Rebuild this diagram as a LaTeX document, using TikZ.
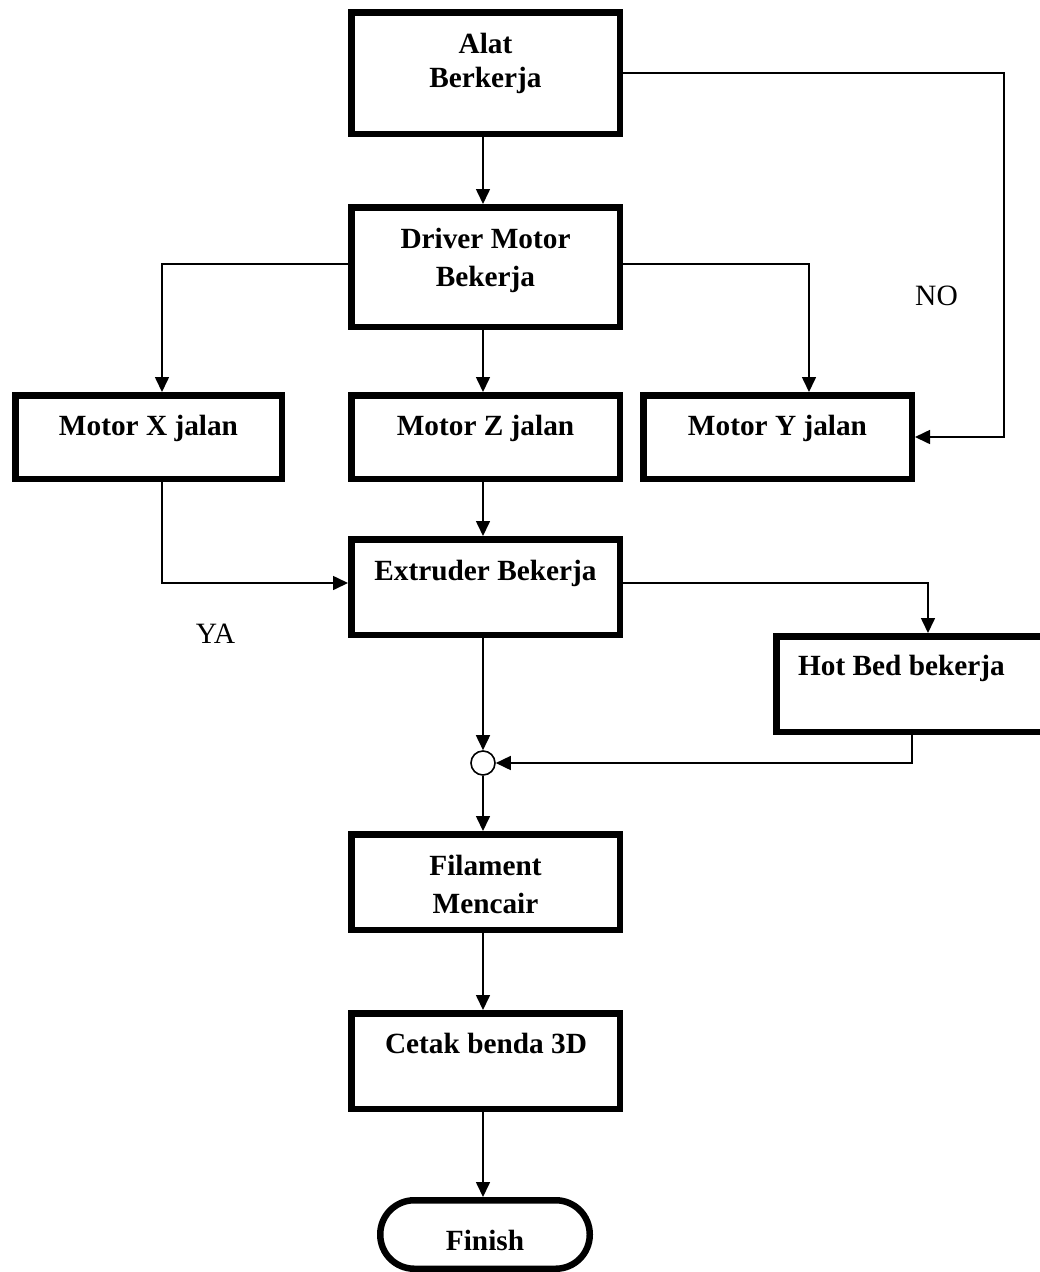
\documentclass[tikz,border=0pt]{standalone}
\usepackage{fontspec}
\setmainfont{Liberation Serif}
\usetikzlibrary{arrows.meta}
\begin{document}
\begin{tikzpicture}[x=1pt,y=-1pt,
  box/.style={draw, line width=6.5pt, rectangle, inner sep=0pt},
  lbl/.style={font=\fontsize{29.3}{34}\selectfont\bfseries, anchor=base, inner sep=0pt},
  plain/.style={font=\fontsize{29.5}{34}\selectfont, anchor=base, inner sep=0pt},
  conn/.style={line width=1.6pt, -{Triangle[length=15pt,width=14pt]}},
  link/.style={line width=1.6pt}
]
\useasboundingbox (0,0) rectangle (1040,1272);

% boxes
\node[box, minimum width=268.5pt, minimum height=121.5pt] (alat) at (485.5,73) {};
\node[box, minimum width=268.5pt, minimum height=119.5pt] (drv) at (485.5,267) {};
\node[box, minimum width=266.5pt, minimum height=83.5pt] (mx) at (148.5,437) {};
\node[box, minimum width=268.5pt, minimum height=83.5pt] (mz) at (485.5,437) {};
\node[box, minimum width=268.5pt, minimum height=83.5pt] (my) at (777.5,437) {};
\node[box, minimum width=268.5pt, minimum height=95.5pt] (ext) at (485.5,587) {};
\node[box, minimum width=268.5pt, minimum height=95.5pt] (hb) at (910.5,684) {};
\node[circle, draw, line width=1.6pt, minimum size=24pt, inner sep=0pt] (j) at (483,763) {};
\node[box, minimum width=268.5pt, minimum height=95.5pt] (fil) at (485.5,882) {};
\node[box, minimum width=268.5pt, minimum height=95.5pt] (cet) at (485.5,1061) {};
\node[box, rounded corners=34pt, minimum width=209.5pt, minimum height=68.5pt] (fin) at (485,1234.5) {};

% texts
\node[lbl] (talat) at (485.5,53) {\begin{tabular}[t]{@{}c@{}}Alat\\Berkerja\end{tabular}};
\node[lbl] (tdrv) at (485.5,248) {\begin{tabular}[t]{@{}c@{}}Driver Motor\\[4pt]Bekerja\end{tabular}};
\node[lbl] (tmx) at (148.5,435) {Motor X jalan};
\node[lbl] (tmz) at (485.5,435) {Motor Z jalan};
\node[lbl] (tmy) at (777.5,435) {Motor Y jalan};
\node[lbl] (text) at (485.5,580) {Extruder Bekerja};
\node[lbl] (thb) at (901.5,675) {Hot Bed bekerja};
\node[lbl] (tfil) at (485.5,875) {\begin{tabular}[t]{@{}c@{}}Filament\\[4pt]Mencair\end{tabular}};
\node[lbl] (tcet) at (486,1053) {Cetak benda 3D};
\node[lbl] (tfin) at (485,1250) {Finish};
\node[plain] (no) at (936.5,305) {NO};
\node[plain] (ya) at (215.5,643) {YA};

% bend coordinates
\coordinate (rb) at (1004,0);
\coordinate (xl) at (162,0);
\coordinate (yl) at (809,0);
\coordinate (hl) at (928,0);
\coordinate (hb2) at (912,0);

% connectors
\draw[conn] (alat.south -| j) -- (drv.north -| j);
\draw[conn] (alat.east) -- (alat.east -| rb) |- (my.east);
\draw[conn] ([yshift=3pt]drv.west) -| (mx.north -| xl);
\draw[conn] (drv.south -| j) -- (mz.north -| j);
\draw[conn] ([yshift=3pt]drv.east) -| (my.north -| yl);
\draw[conn] (mz.south -| j) -- (ext.north -| j);
\draw[conn] (mx.south -| xl) |- ([yshift=4pt]ext.west);
\draw[conn] ([yshift=4pt]ext.east) -| (hb.north -| hl);
\draw[conn] (ext.south -| j) -- (j.north);
\draw[conn] (hb.south -| hb2) |- (j.east);
\draw[conn] (j.south) -- (fil.north -| j);
\draw[conn] (fil.south -| j) -- (cet.north -| j);
\draw[conn] (cet.south -| j) -- (fin.north -| j);
\end{tikzpicture}
\end{document}
